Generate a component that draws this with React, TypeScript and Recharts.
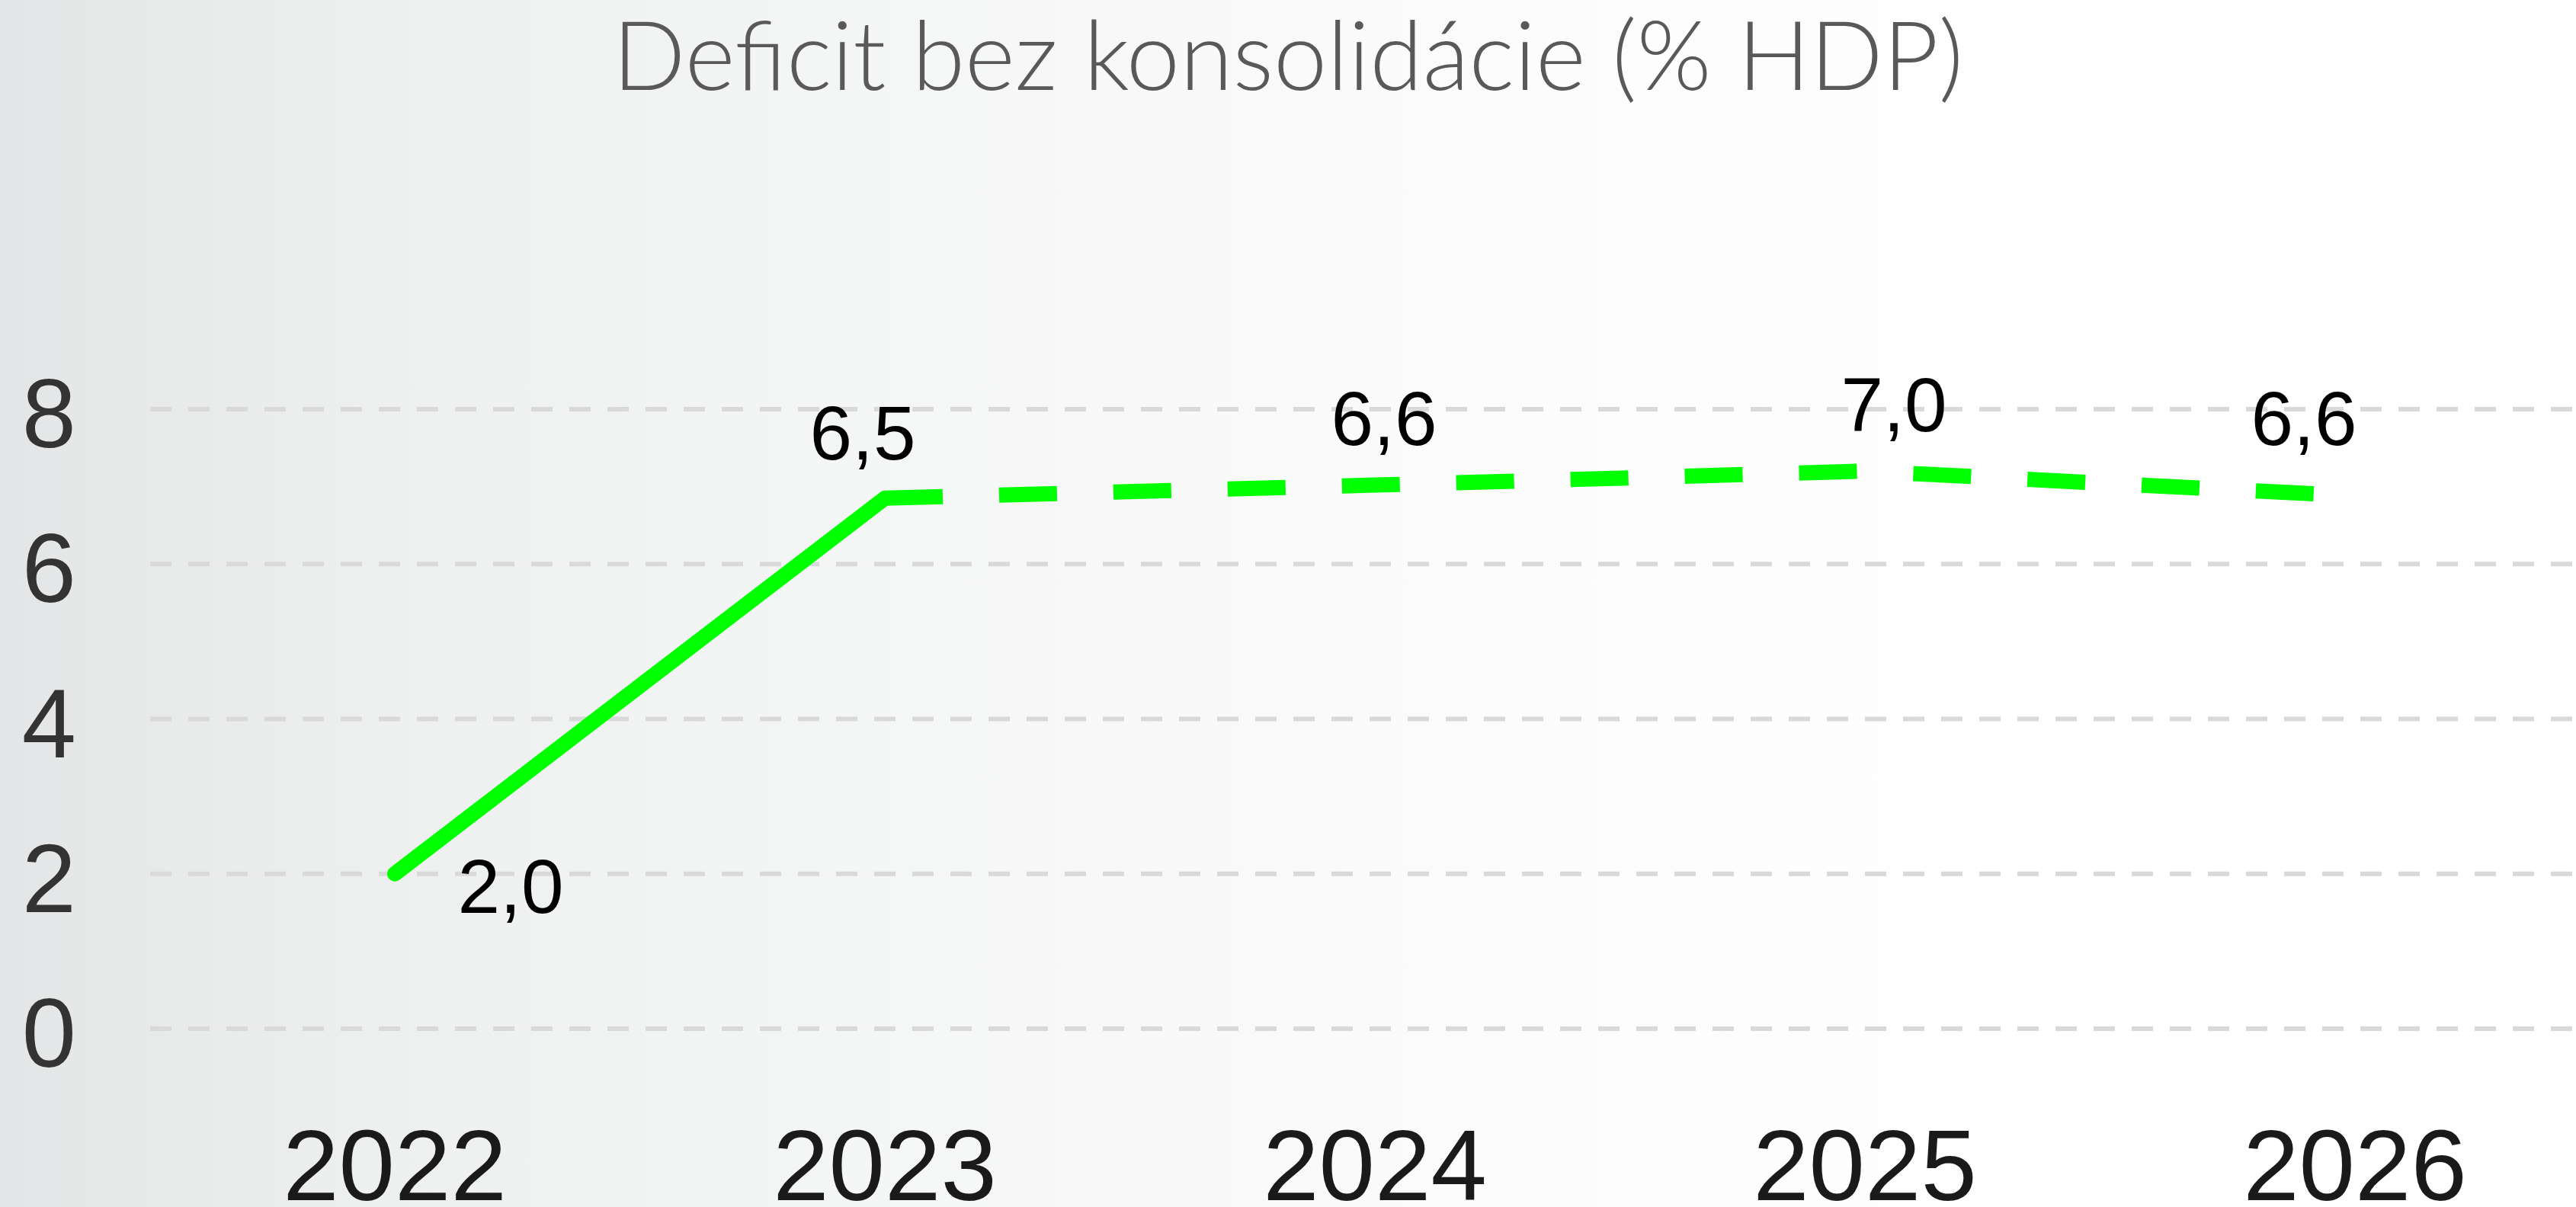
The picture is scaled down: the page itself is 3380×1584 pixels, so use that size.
import React from 'react';
import { LineChart, Line, XAxis, YAxis, CartesianGrid, LabelList } from 'recharts';

// values
const years = ['2022', '2023', '2024', '2025', '2026'];
const actual = [2.0, 6.85, null, null, null];
const projected = [null, 6.85, 7.02, 7.2, 6.88];
const plotted = [2.0, 6.85, 7.02, 7.2, 6.88];
const labelTexts = ['2,0', '6,5', '6,6', '7,0', '6,6'];
const yTicks = [0, 2, 4, 6, 8];

// where each value label sits relative to its point
const labelOffsets = [
  { dx: 152, dy: 51 },
  { dx: -29, dy: -51 },
  { dx: 12, dy: -53 },
  { dx: 38, dy: -52 },
  { dx: -67, dy: -67 },
];

const W = 3380;
const H = 1584;
const GREEN = '#00FF00';
const SANS = '"Liberation Sans", Arial, sans-serif';

const rows = years.map((year, i) => ({
  year,
  actual: actual[i],
  projected: projected[i],
  all: plotted[i],
}));

function YTick({ y, payload }: any) {
  return (
    <text x={100} y={y + 50} textAnchor="end" fontFamily={SANS} fontSize={128} fill="#333333">
      {payload.value}
    </text>
  );
}

function XTick({ x, payload }: any) {
  return (
    <text x={x} y={1575} textAnchor="middle" fontFamily={SANS} fontSize={132} fill="#1a1a1a">
      {payload.value}
    </text>
  );
}

function ValueLabel(props: any) {
  const { x, y, index } = props;
  const off = labelOffsets[index];
  if (x == null || y == null || !off) return null;
  return (
    <text x={x + off.dx} y={y + off.dy} textAnchor="middle" fontFamily={SANS} fontSize={100} fill="#000000">
      {labelTexts[index]}
    </text>
  );
}

export default function App() {
  return (
    <div
      style={{
        position: 'absolute',
        left: 0,
        top: 0,
        width: W,
        height: H,
        overflow: 'hidden',
        background: 'linear-gradient(to right, #e4e5e6 0%, #eeefef 15%, #f5f6f6 35%, #fcfcfc 60%, #ffffff 80%)',
      }}
    >
      <svg width={W} height={200} style={{ position: 'absolute', left: 0, top: 0 }}>
        <text x={W / 2} y={118} textAnchor="middle" fontFamily="Lato, sans-serif" fontWeight={300} fontSize={126} fill="#595959">
          Deficit bez konsolidácie (% HDP)
        </text>
      </svg>
      <div style={{ position: 'absolute', left: 0, top: 0 }}>
        <LineChart width={W} height={H} data={rows} margin={{ top: 537, right: 0, bottom: 0, left: 0 }}>
          <CartesianGrid vertical={false} stroke="#d9d9d9" strokeWidth={6} strokeDasharray="28 22" />
          <XAxis
            dataKey="year"
            axisLine={false}
            tickLine={false}
            height={234}
            padding={{ left: 321, right: 290 }}
            tick={<XTick />}
            interval={0}
          />
          <YAxis
            domain={[0, 8]}
            ticks={yTicks}
            axisLine={false}
            tickLine={false}
            width={197}
            tick={<YTick />}
          />
          <Line
            type="linear"
            dataKey="actual"
            stroke={GREEN}
            strokeWidth={20}
            strokeLinecap="round"
            strokeLinejoin="round"
            dot={false}
            activeDot={false}
            connectNulls={false}
            isAnimationActive={false}
          />
          <Line
            type="linear"
            dataKey="projected"
            stroke={GREEN}
            strokeWidth={20}
            strokeDasharray="76 74"
            dot={false}
            activeDot={false}
            connectNulls={false}
            isAnimationActive={false}
          />
          <Line
            type="linear"
            dataKey="all"
            stroke="none"
            dot={false}
            activeDot={false}
            isAnimationActive={false}
          >
            <LabelList dataKey="all" content={<ValueLabel />} />
          </Line>
        </LineChart>
      </div>
    </div>
  );
}
